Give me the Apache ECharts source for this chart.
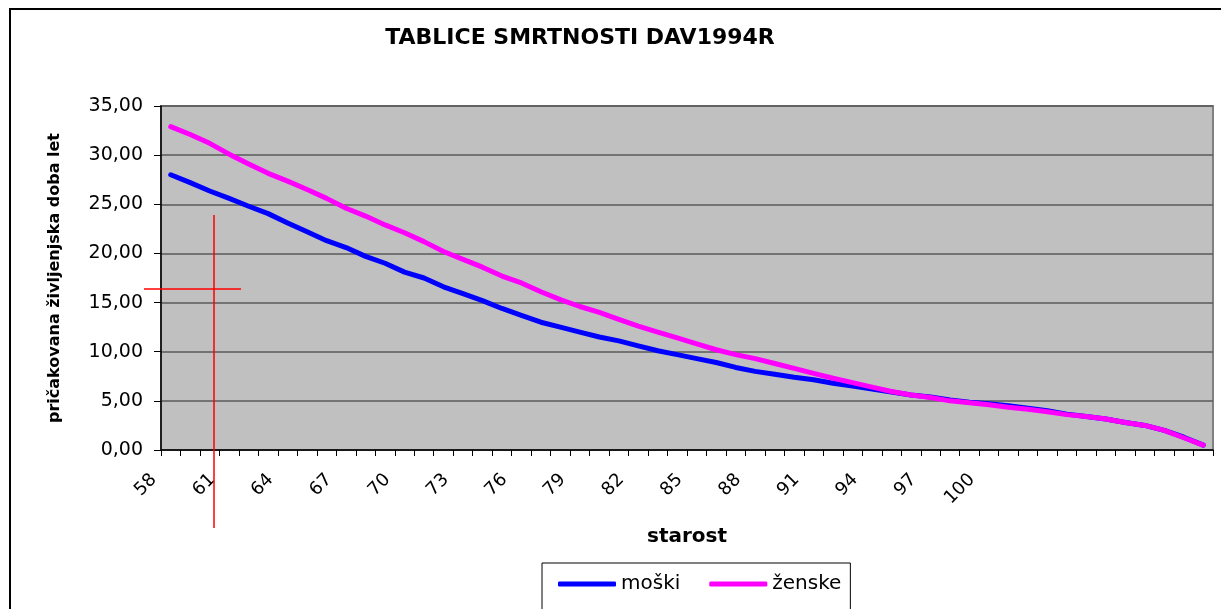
<!DOCTYPE html>
<html><head><meta charset="utf-8">
<script src="https://cdn.jsdelivr.net/npm/echarts@6/dist/echarts.min.js"></script>
<style>html,body{margin:0;padding:0;background:#fff}#c{width:1221px;height:609px}</style>
</head><body><div id="c"></div>
<script>
const chartTitle = 'TABLICE SMRTNOSTI DAV1994R';
const xAxisName = 'starost';
const yAxisName = 'pričakovana življenjska doba let';
const ages = [58,59,60,61,62,63,64,65,66,67,68,69,70,71,72,73,74,75,76,77,78,79,80,81,82,83,84,85,86,87,88,89,90,91,92,93,94,95,96,97,98,99,100,101,102,103,104,105,106,107,108,109,110,111];
const labelledAges = [58,61,64,67,70,73,76,79,82,85,88,91,94,97,100];
const moski = [28.0,27.2,26.35,25.6,24.8,24.05,23.1,22.2,21.3,20.6,19.7,19.0,18.1,17.5,16.6,15.9,15.2,14.4,13.7,13.0,12.5,12.0,11.5,11.1,10.6,10.1,9.7,9.3,8.9,8.4,8.0,7.7,7.4,7.15,6.8,6.5,6.2,5.9,5.6,5.4,5.1,4.85,4.7,4.5,4.25,4.0,3.65,3.4,3.15,2.8,2.5,2.0,1.3,0.5];
const zenske = [32.9,32.1,31.2,30.1,29.1,28.15,27.35,26.5,25.6,24.6,23.8,22.9,22.1,21.2,20.2,19.4,18.6,17.7,17.0,16.1,15.3,14.6,14.0,13.3,12.6,12.0,11.4,10.8,10.2,9.7,9.3,8.8,8.3,7.8,7.3,6.85,6.4,5.95,5.6,5.35,5.0,4.8,4.6,4.35,4.15,3.9,3.6,3.4,3.15,2.8,2.5,2.0,1.25,0.5];
const seriesNames = ['moški', 'ženske'];
const yMin = 0, yMax = 35, yStep = 5;

const FONT = 'DejaVu Sans';
const chart = echarts.init(document.getElementById('c'), null, {renderer: 'canvas'});
chart.setOption({
  animation: false,
  backgroundColor: '#ffffff',
  title: {
    text: chartTitle, left: 580, top: 27, textAlign: 'center', padding: 0,
    textStyle: {fontFamily: FONT, fontWeight: 'bold', fontSize: 22, color: '#000'}
  },
  graphic: [
    {type: 'rect', shape: {x: 10, y: 9, width: 1300, height: 700}, style: {fill: 'none', stroke: '#000', lineWidth: 2}, z: 100},
    {type: 'line', shape: {x1: 214, y1: 215, x2: 214, y2: 528}, style: {stroke: '#ff0000', lineWidth: 1.5}, z: 100},
    {type: 'line', shape: {x1: 144, y1: 289, x2: 241, y2: 289}, style: {stroke: '#ff0000', lineWidth: 1.5}, z: 100}
  ],
  legend: {
    data: seriesNames, left: 542, top: 563, orient: 'horizontal',
    padding: [11, 9, 40, 16], itemGap: 29, itemWidth: 58, itemHeight: 5,
    icon: 'roundRect', borderColor: '#000', borderWidth: 1, backgroundColor: '#fff',
    textStyle: {fontFamily: FONT, fontSize: 20, color: '#000'}
  },
  grid: {left: 161, right: 8, top: 106, bottom: 159, show: true, backgroundColor: '#c0c0c0', borderColor: '#808080', borderWidth: 2},
  xAxis: {
    type: 'category', data: ages.map(String), boundaryGap: true,
    name: xAxisName, nameLocation: 'middle', nameGap: 77,
    nameTextStyle: {fontFamily: FONT, fontWeight: 'bold', fontSize: 20, color: '#000'},
    axisLine: {lineStyle: {color: '#000', width: 1.5}},
    axisTick: {show: true, interval: 0, length: 6, lineStyle: {color: '#000', width: 1}},
    axisLabel: {
      interval: 0, rotate: 45, margin: 10, padding: [0, 24, 0, 0],
      fontFamily: FONT, fontSize: 18, color: '#000',
      formatter: function (v) { return labelledAges.indexOf(Number(v)) >= 0 ? v : ''; }
    },
    splitLine: {show: false}
  },
  yAxis: {
    type: 'value', min: yMin, max: yMax, interval: yStep,
    name: yAxisName, nameLocation: 'middle', nameRotate: 90, nameGap: 98,
    nameTextStyle: {fontFamily: FONT, fontWeight: 'bold', fontSize: 16, color: '#000'},
    axisLine: {show: true, lineStyle: {color: '#000', width: 1.5}},
    axisTick: {show: true, length: 7, lineStyle: {color: '#000'}},
    axisLabel: {
      margin: 18, fontFamily: FONT, fontSize: 19, color: '#000',
      formatter: function (v) { return v.toFixed(2).replace('.', ','); }
    },
    splitLine: {show: true, lineStyle: {color: '#5a5a5a', width: 1.5}}
  },
  series: [
    {name: seriesNames[0], type: 'line', data: moski, symbol: 'none', color: '#0000ff',
     lineStyle: {width: 5, color: '#0000ff', cap: 'round', join: 'round'}},
    {name: seriesNames[1], type: 'line', data: zenske, symbol: 'none', color: '#ff00ff',
     lineStyle: {width: 5, color: '#ff00ff', cap: 'round', join: 'round'}}
  ]
});
</script></body></html>
